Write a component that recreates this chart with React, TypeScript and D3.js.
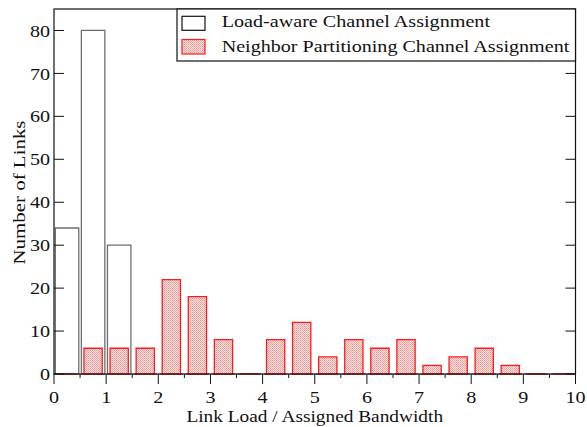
import React from "react";
import * as d3 from "d3";

const binCenters = [0.25, 0.75, 1.25, 1.75, 2.25, 2.75, 3.25, 3.75, 4.25, 4.75, 5.25, 5.75, 6.25, 6.75, 7.25, 7.75, 8.25, 8.75, 9.25, 9.75];
const loadAware = [34, 80, 30, 0, 0, 0, 0, 0, 0, 0, 0, 0, 0, 0, 0, 0, 0, 0, 0, 0];
const neighbor = [0, 6, 6, 6, 22, 18, 8, 0, 8, 12, 4, 8, 6, 8, 2, 4, 6, 2, 0, 0];
const xTicks = [0, 1, 2, 3, 4, 5, 6, 7, 8, 9, 10];
const xMinorTicks = [0.5, 1.5, 2.5, 3.5, 4.5, 5.5, 6.5, 7.5, 8.5, 9.5];
const yTicks = [0, 10, 20, 30, 40, 50, 60, 70, 80];
const seriesNames = ["Load-aware Channel Assignment", "Neighbor Partitioning Channel Assignment"];
const xTitle = "Link Load / Assigned Bandwidth";
const yTitle = "Number of Links";

const W = 587, H = 427;
const L = 54, R = 575.5, T = 9, B = 374;
const FONT = "'Liberation Serif', 'Times New Roman', Times, serif";
const FS = 17.5;
const SX = 1.15;

function Num({ x, y, anchor, dy, children }: { x: number; y: number; anchor: string; dy?: string; children: any }) {
  return (
    <g transform={`translate(${x},${y}) scale(${SX},1)`}>
      <text x={0} y={0} dy={dy} textAnchor={anchor} fontSize={FS} fill="#111" style={{ fontFamily: FONT }}>{children}</text>
    </g>
  );
}

export default function App() {
  const x = d3.scaleLinear().domain([0, 10]).range([L, R]);
  const y = d3.scaleLinear().domain([0, 85]).range([B, T]);
  const barPath = (c: number, w: number, v: number) => {
    const x0 = x(c - w / 2), x1 = x(c + w / 2), y0 = y(0), y1 = y(v);
    return `M${x0},${y0}V${y1}H${x1}V${y0}Z`;
  };
  const ts = { fontFamily: FONT };
  return (
    <svg width={W} height={H} style={{ position: "absolute", left: 0, top: 0, background: "#fff" }}>
      <defs>
        <pattern id="dots" width="2" height="2" patternUnits="userSpaceOnUse">
          <rect width="2" height="2" fill="#fde2e2" />
          <rect x="0" y="0" width="1" height="1" fill="#f39595" />
          <rect x="1" y="1" width="1" height="1" fill="#f6a8a8" />
        </pattern>
      </defs>
      <rect x={0} y={0} width={W} height={H} fill="#fff" />
      {binCenters.map((c, i) => (
        <path key={"a" + i} d={barPath(c, 0.45, loadAware[i])} fill="#fff" stroke="#6e6e6e" strokeWidth={1.3} />
      ))}
      {binCenters.map((c, i) => (
        <path key={"b" + i} d={barPath(c, 0.35, neighbor[i])} fill="url(#dots)" stroke="#ff1a1a" strokeWidth={1.3} />
      ))}
      <rect x={L} y={T} width={R - L} height={B - T} fill="none" stroke="#111" strokeWidth={1.2} />
      {yTicks.map((t) => (
        <g key={"y" + t}>
          <line x1={L} x2={L + 10} y1={y(t)} y2={y(t)} stroke="#111" strokeWidth={1} />
          <line x1={R - 10} x2={R} y1={y(t)} y2={y(t)} stroke="#111" strokeWidth={1} />
          <Num x={L - 4} y={y(t)} dy="0.35em" anchor="end">{t}</Num>
        </g>
      ))}
      {xTicks.map((t) => (
        <g key={"x" + t}>
          <line x1={x(t)} x2={x(t)} y1={B} y2={B + 10} stroke="#111" strokeWidth={1} />
          <Num x={x(t)} y={403} anchor="middle">{t}</Num>
        </g>
      ))}
      {xMinorTicks.map((t) => (
        <line key={"m" + t} x1={x(t)} x2={x(t)} y1={B} y2={B + 4} stroke="#111" strokeWidth={1} />
      ))}
      <text x={(L + R) / 2} y={421.5} textAnchor="middle" fontSize={FS} fill="#111" style={ts}
        textLength={256.7} lengthAdjust="spacingAndGlyphs">{xTitle}</text>
      <text transform={`translate(25, ${(T + B) / 2 + 1}) rotate(-90)`} textAnchor="middle" fontSize={FS} fill="#111" style={ts}
        textLength={144} lengthAdjust="spacingAndGlyphs">{yTitle}</text>
      <rect x={177} y={T} width={R - 177} height={52} fill="#fff" stroke="#111" strokeWidth={1.2} />
      <rect x={182} y={16.3} width={23} height={14} fill="#fff" stroke="#111" strokeWidth={1.2} />
      <rect x={182} y={39.5} width={23} height={14.5} fill="url(#dots)" stroke="#ff1a1a" strokeWidth={1.2} />
      <text x={221.7} y={26.7} fontSize={FS} fill="#111" style={ts}
        textLength={268.3} lengthAdjust="spacingAndGlyphs">{seriesNames[0]}</text>
      <text x={221.7} y={51.7} fontSize={FS} fill="#111" style={ts}
        textLength={347.6} lengthAdjust="spacingAndGlyphs">{seriesNames[1]}</text>
    </svg>
  );
}
